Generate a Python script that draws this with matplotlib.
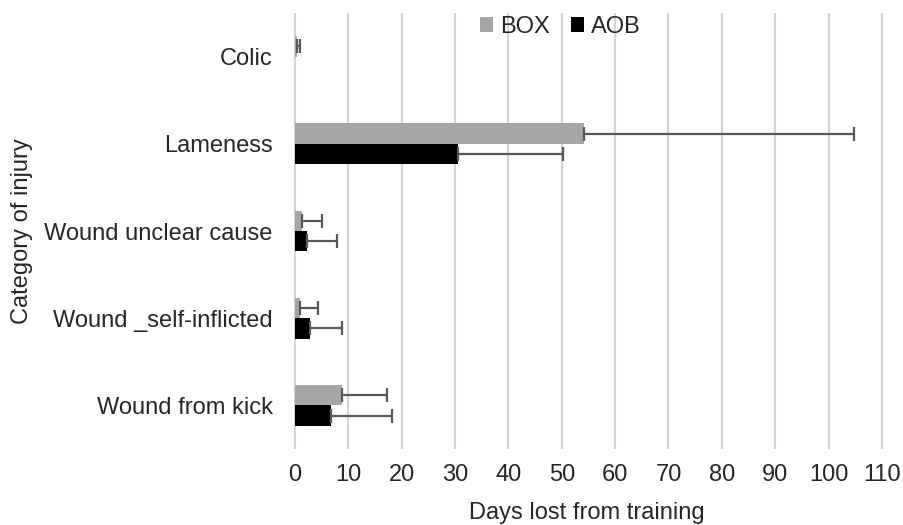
import matplotlib
matplotlib.use("Agg")
import matplotlib.pyplot as plt
import numpy as np

plt.rcParams['font.family'] = ['Liberation Sans', 'DejaVu Sans']

categories = ["Colic", "Lameness", "Wound unclear cause", "Wound _self-inflicted", "Wound from kick"]
box_vals = [0.3, 54.1, 1.4, 0.9, 8.9]
box_err = [0.7, 50.6, 3.7, 3.5, 8.3]
aob_vals = [0.0, 30.6, 2.2, 2.9, 6.8]
aob_err = [0.0, 19.7, 5.6, 6.0, 11.3]
xticks = list(range(0, 111, 10))

W, H = 904, 525
fig = plt.figure(figsize=(W / 100, H / 100), dpi=100)
ax_left_px, ax_right_px = 292.3, 884.6
ax_top_px, ax_bot_px = 13, 449
ax = fig.add_axes([ax_left_px / W, 1 - ax_bot_px / H,
                   (ax_right_px - ax_left_px) / W, (ax_bot_px - ax_top_px) / H])

n = len(categories)
y = np.arange(n)[::-1].astype(float)
h = 0.235
errkw = dict(ecolor='#595959', elinewidth=1.6, capsize=4.7, capthick=1.6)
txtc = '#262626'
fs = 17

ax.barh(y + h/2, box_vals, height=h, color='#a6a6a6', label='BOX', zorder=3)
ax.errorbar(box_vals, y + h/2, xerr=[np.zeros(n), box_err], fmt='none', zorder=4, **errkw)
ax.barh(y - h/2, aob_vals, height=h, color='#000000', label='AOB', zorder=3)
av = np.array(aob_vals)
mask = av > 0
ax.errorbar(av[mask], (y - h/2)[mask],
            xerr=[np.zeros(mask.sum()), np.array(aob_err)[mask]], fmt='none', zorder=4, **errkw)

ax.set_xlim(-0.5, 110.5)
ax.set_ylim(-0.5, n - 0.5)
ax.set_xticks(xticks)
ax.set_yticks(y)
ax.set_yticklabels(categories)
ax.tick_params(axis='both', length=0, labelsize=fs, colors=txtc)
ax.tick_params(axis='x', pad=11)
ax.tick_params(axis='y', pad=14)
ax.grid(axis='x', color='#d4d4d4', linewidth=1.5, zorder=0)
for s in ax.spines.values():
    s.set_visible(False)

ax.set_xlabel("Days lost from training", fontsize=fs, color=txtc, va='center')
ax.xaxis.set_label_coords(0.497, -0.147)
ax.set_ylabel("Category of injury", fontsize=fs, color=txtc, va='center')
ax.yaxis.set_label_coords(-0.456, 0.5)

leg = ax.legend(loc='center', bbox_to_anchor=(0.452, 0.968), ncol=2, frameon=False,
                fontsize=fs, handlelength=0.55, handleheight=0.55, handletextpad=0.3,
                columnspacing=0.9, borderpad=0, borderaxespad=0)
for t in leg.get_texts():
    t.set_color(txtc)

fig.savefig("out.png", dpi=100)
